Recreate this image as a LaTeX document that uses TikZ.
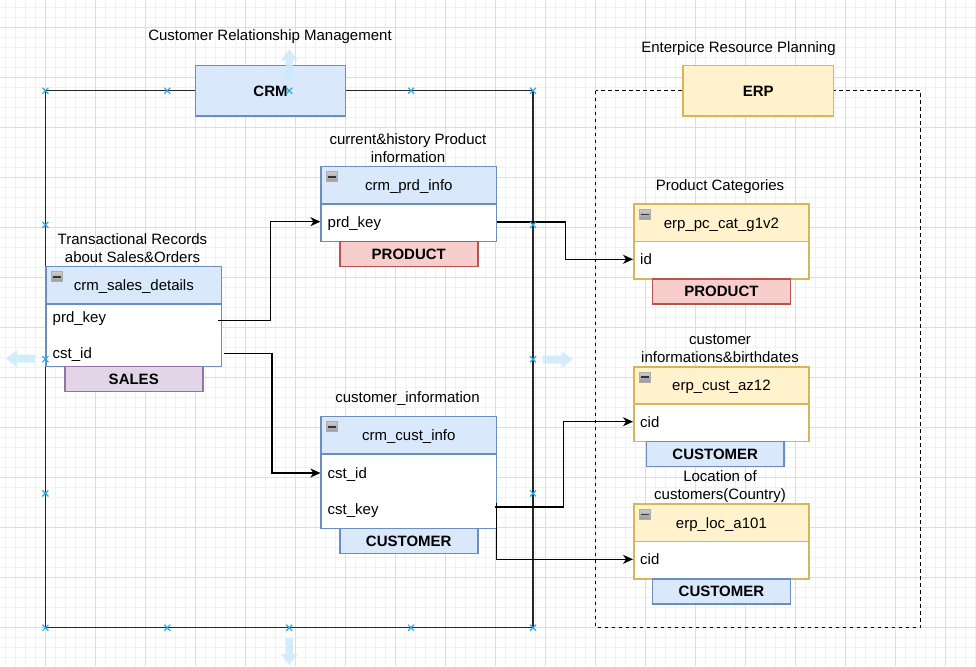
\documentclass[tikz,border=0pt]{standalone}
\usepackage{fontspec}
\setmainfont{Liberation Sans}
\usetikzlibrary{arrows.meta,calc}
\definecolor{blueF}{HTML}{DAE8FC}
\definecolor{blueS}{HTML}{6C8EBF}
\definecolor{yelF}{HTML}{FFF2CC}
\definecolor{yelS}{HTML}{D6B656}
\definecolor{redF}{HTML}{F8CECC}
\definecolor{redS}{HTML}{B85450}
\definecolor{purF}{HTML}{E1D5E7}
\definecolor{purS}{HTML}{9673A6}
\definecolor{gridMinor}{HTML}{F1F1F1}
\definecolor{gridMajor}{HTML}{DDDDDD}
\definecolor{mkBlue}{HTML}{2FA8E6}
\definecolor{hoverBlue}{HTML}{CDEAFB}
\newcommand\minusicon[1]{%
  \shade[top color=gray!40,bottom color=gray!80,draw=gray!65,line width=0.6pt]
    ([shift={(6,6)}]#1.north west) rectangle ++(11,10);
  \draw[black!80,line width=1.6pt] ([shift={(7.5,11)}]#1.north west) -- ++(8,0);
}
\begin{document}
\begin{tikzpicture}[x=1pt,y=-1pt,
  txt/.style={font=\fontsize{15}{18}\selectfont,inner sep=0pt,text height=13pt,text depth=2.2pt},
  lbl/.style={font=\fontsize{15}{18}\selectfont,inner sep=0pt,align=center},
  head/.style={txt,draw,line width=1.5pt,minimum width=175.3pt,minimum height=37.6pt,anchor=north west},
  body/.style={draw,fill=white,line width=1.5pt,minimum width=175.3pt,anchor=north west,inner sep=0pt},
  bluehead/.style={head,draw=blueS,fill=blueF},
  yelhead/.style={head,draw=yelS,fill=yelF},
  bluebody/.style={body,draw=blueS},
  yelbody/.style={body,draw=yelS},
  tag/.style={txt,font=\fontsize{15}{18}\selectfont\bfseries,draw,line width=1.5pt,minimum width=138pt,minimum height=25pt,anchor=north west},
  bigbox/.style={txt,font=\fontsize{15}{18}\selectfont\bfseries,draw,line width=1.5pt,minimum width=150.3pt,minimum height=50.3pt},
  conn/.style={draw=black,line width=1.3pt,-{Stealth[length=10pt,width=9pt,inset=3pt]}},
  xmk/.style={draw=mkBlue,line width=1.2pt},
  hover/.style={fill=hoverBlue,fill opacity=0.85,draw=none},
  field/.style={txt,anchor=west}
]
\useasboundingbox (0,0) rectangle (976,666);
\fill[white] (0,0) rectangle (976,666);
% grid
\foreach \i in {0,...,97} \draw[gridMinor,line width=0.9pt] (5.7+10*\i,0) -- (5.7+10*\i,666);
\foreach \i in {0,...,66} \draw[gridMinor,line width=0.9pt] (0,7.3+10*\i) -- (976,7.3+10*\i);
\foreach \i in {0,...,18} \draw[gridMajor,line width=1pt] (45.7+50*\i,0) -- (45.7+50*\i,666);
\foreach \i in {0,...,12} \draw[gridMajor,line width=1pt] (0,27.3+50*\i) -- (976,27.3+50*\i);

% frames
\draw[black!85,line width=1.5pt] (45.4,90.7) rectangle (533,627.7);
\draw[black,line width=1.3pt,dash pattern=on 3.5pt off 3.5pt] (595.7,90.7) rectangle (920.7,627.7);

% group boxes and titles
\node[txt] (crmTitle) at (270,35) {Customer Relationship Management};
\node[bigbox,draw=blueS,fill=blueF] (crm) at (270.5,90.85) {CRM};
\node[txt] (erpTitle) at (738.5,46.7) {Enterpice Resource Planning};
\node[bigbox,draw=yelS,fill=yelF] (erp) at (758.2,90.85) {ERP};

% crm_sales_details
\node[lbl] (salesLbl) at (132.5,248) {Transactional Records\\about Sales\&Orders};
\node[bluebody,minimum height=62.4pt] (salesBody) at (45.4,303.3) {};
\node[bluehead] (salesHead) at (45.4,265.7) {crm\_sales\_details};
\minusicon{salesHead}
\node[field] (salesPrd) at (52.5,316.7) {prd\_key};
\node[field] (salesCst) at (52.5,352.7) {cst\_id};
\node[tag,draw=purS,fill=purF] (salesTag) at (64,365.7) {SALES};

% crm_prd_info
\node[lbl] (prdLbl) at (408,148) {current\&history Product\\information};
\node[bluebody,minimum height=37.4pt] (prdBody) at (320.4,203.3) {};
\node[bluehead] (prdHead) at (320.4,165.7) {crm\_prd\_info};
\minusicon{prdHead}
\node[field] (prdKey) at (327.5,222) {prd\_key};
\node[tag,draw=redS,fill=redF] (prdTag) at (339,240.7) {PRODUCT};

% crm_cust_info
\node[txt] (custLbl) at (407.5,396.7) {customer\_information};
\node[bluebody,minimum height=74.4pt] (custBody) at (320.4,453.3) {};
\node[bluehead] (custHead) at (320.4,415.7) {crm\_cust\_info};
\minusicon{custHead}
\node[field] (custId) at (327.5,473) {cst\_id};
\node[field] (custKey) at (327.5,509) {cst\_key};
\node[tag,draw=blueS,fill=blueF] (custTag) at (339,527.7) {CUSTOMER};

% erp_pc_cat_g1v2
\node[txt] (pcLbl) at (720,185) {Product Categories};
\node[yelbody,minimum height=37.6pt] (pcBody) at (633,240.7) {};
\node[yelhead] (pcHead) at (633,203.3) {erp\_pc\_cat\_g1v2};
\minusicon{pcHead}
\node[field] (pcId) at (640,259.3) {id};
\node[tag,draw=redS,fill=redF] (pcTag) at (651.7,278.3) {PRODUCT};

% erp_cust_az12
\node[lbl] (azLbl) at (720,348.5) {customer\\informations\&birthdates};
\node[yelbody,minimum height=37.4pt] (azBody) at (633,403.3) {};
\node[yelhead,minimum height=37.3pt] (azHead) at (633,366) {erp\_cust\_az12};
\minusicon{azHead}
\node[field] (azCid) at (640,421.7) {cid};
\node[tag,draw=blueS,fill=blueF,minimum width=137.6pt] (azTag) at (645.7,440.7) {CUSTOMER};

% erp_loc_a101
\node[lbl] (locLbl) at (720,486.3) {Location of\\customers(Country)};
\node[yelbody,minimum height=37.6pt] (locBody) at (633,540.7) {};
\node[yelhead] (locHead) at (633,503.3) {erp\_loc\_a101};
\minusicon{locHead}
\node[field] (locCid) at (640,559.3) {cid};
\node[tag,draw=blueS,fill=blueF] (locTag) at (651.7,578.3) {CUSTOMER};

% connectors
\coordinate (pSalesPrd) at (218,320.7);
\draw[conn] (pSalesPrd) -- ++(52.4,0) |- ([yshift=0.3]prdBody.west |- prdKey);
\draw[conn] ([xshift=1.3,yshift=-0.6]salesBody.east |- salesCst) -- ++(48.4,0) |- (custBody.west |- custId);
\draw[conn] (prdBody.east |- prdKey) -- ++(68.3,0) |- (pcBody.west |- pcId);
\coordinate (pCustKeyA) at (494.6,507);
\coordinate (pCustKeyB) at (496.5,503.3);
\draw[conn] (pCustKeyA) -- ++(69,0) |- (azBody.west |- azCid);
\draw[conn] (pCustKeyB) |- (locBody.west |- locCid);

% selection markers
\foreach \x in {45.4,167.3,289.2,411.1,533} {
  \draw[xmk] (\x-3,87.7) -- (\x+3,93.7) (\x-3,93.7) -- (\x+3,87.7);
  \draw[xmk] (\x-3,624.7) -- (\x+3,630.7) (\x-3,630.7) -- (\x+3,624.7);
}
\foreach \y in {224.9,359.2,493.4} {
  \draw[xmk] (42.4,\y-3) -- (48.4,\y+3) (42.4,\y+3) -- (48.4,\y-3);
  \draw[xmk] (530,\y-3) -- (536,\y+3) (530,\y+3) -- (536,\y-3);
}
% hover arrows
\fill[hover] (289.3,49.3) -- (297.8,60.3) -- (292.8,60.3) -- (292.8,79) -- (285.8,79) -- (285.8,60.3) -- (280.8,60.3) -- cycle;
\fill[hover] (289.3,665) -- (297.8,654) -- (292.8,654) -- (292.8,638) -- (285.8,638) -- (285.8,654) -- (280.8,654) -- cycle;
\fill[hover] (6,358.5) -- (17,350) -- (17,354.5) -- (35,354.5) -- (35,362.5) -- (17,362.5) -- (17,367) -- cycle;
\fill[hover] (572.7,359.5) -- (561.7,351) -- (561.7,355.5) -- (542.7,355.5) -- (542.7,363.5) -- (561.7,363.5) -- (561.7,368) -- cycle;
\end{tikzpicture}
\end{document}
